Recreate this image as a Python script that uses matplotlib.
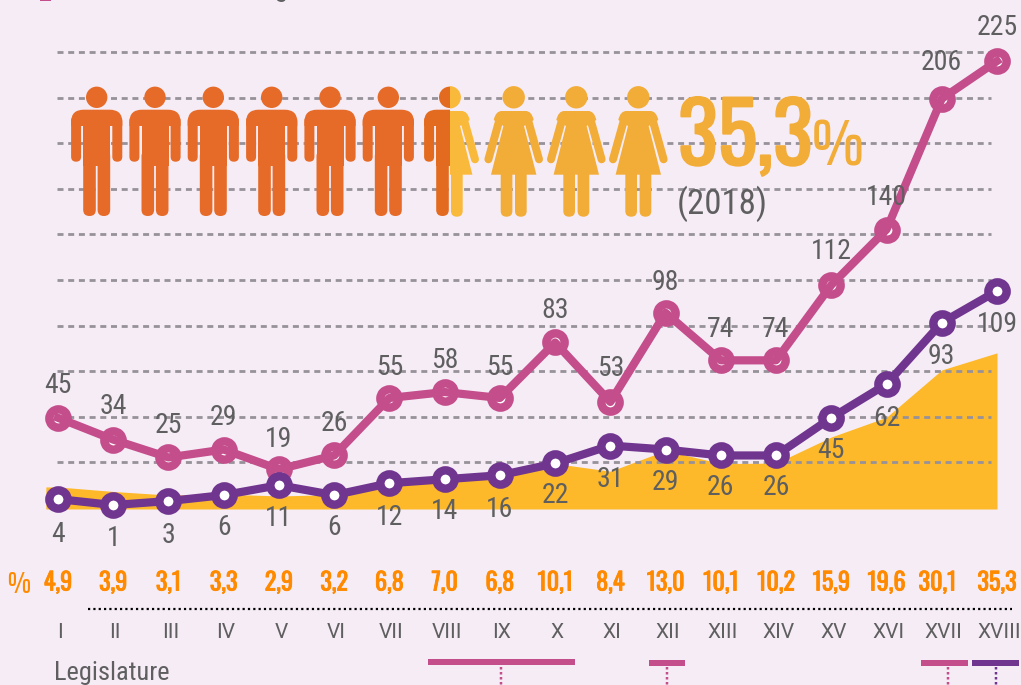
import matplotlib
matplotlib.use("Agg")
import matplotlib.pyplot as plt
import matplotlib.patheffects as pe
from matplotlib.patches import Circle, FancyBboxPatch, PathPatch, Rectangle
from matplotlib.path import Path
from matplotlib.transforms import blended_transform_factory

plt.rcParams["lines.scale_dashes"] = False
COND = ["Roboto Condensed", "Roboto", "DejaVu Sans"]
HEAD = ["Oswald", "Antonio", "Roboto Condensed", "DejaVu Sans"]
TALL = ["Antonio", "Oswald", "Roboto Condensed", "DejaVu Sans"]

legislatures = ["I", "II", "III", "IV", "V", "VI", "VII", "VIII", "IX", "X", "XI", "XII",
                "XIII", "XIV", "XV", "XVI", "XVII", "XVIII"]
women_senate = [45, 34, 25, 29, 19, 26, 55, 58, 55, 83, 53, 98, 74, 74, 112, 140, 206, 225]
women_other = [4, 1, 3, 6, 11, 6, 12, 14, 16, 22, 31, 29, 26, 26, 45, 62, 93, 109]
pct_labels = ["4,9", "3,9", "3,1", "3,3", "2,9", "3,2", "6,8", "7,0", "6,8", "10,1", "8,4", "13,0",
              "10,1", "10,2", "15,9", "19,6", "30,1", "35,3"]
area_pct = [4.9, 3.9, 3.1, 3.3, 2.9, 3.2, 6.8, 7.0, 6.8, 10.1, 8.4, 13.0,
            10.1, 10.2, 16.0, 20.4, 30.9, 34.7]
grid_levels = [22.5, 45.5, 68.5, 91.5, 114.5, 137.5, 160.5, 183.5, 206.5, 229.5]
# label distance from its point, pixels
senate_gap = [32, 33, 32, 32, 30, 32, 30, 32, 30, 32, 33, 30, 31, 31, 34, 32, 36, 34]
other_gap = [35, 33, 34, 32, 33, 32, 34, 32, 34, 32, 34, 33, 32, 32, 33, 34, 34, 34]

BG = "#F6ECF6"
PINK = "#C44D8B"
PURPLE = "#70358F"
AREA = "#FDB92A"
GRID = "#979299"
TEXT = "#5F5F60"
ORANGE = "#FF8A00"
MAN = "#E66B29"
WOMAN = "#F2AC38"

W, H = 1021, 685
PX = 0.72  # one pixel in points at dpi 100
X0, DX = 58, 55.235

fig = plt.figure(figsize=(W / 100, H / 100), dpi=100, facecolor=BG)

# area axis sits lowest, main axis on top of it
ax_area = fig.add_axes([0, 0, 1, 1], facecolor=BG)
ax = ax_area.twinx()
ax_px = fig.add_axes([0, 0, 1, 1])
ax.patch.set_visible(False)
ax_px.patch.set_visible(False)

xlim = (-X0 / DX, (W - X0) / DX)
ax_area.set_xlim(xlim)
ax.set_xlim(xlim)
ax.set_ylim(-(H - 507) / 1.982, 507 / 1.982)
ax_area.set_ylim(-(H - 509) / 4.5, 509 / 4.5)
ax_px.set_xlim(0, W)
ax_px.set_ylim(H, 0)
for a in (ax_area, ax, ax_px):
    a.axis("off")

xs = list(range(len(legislatures)))
area_x = [-0.22] + xs
ax_area.fill_between(area_x, [area_pct[0]] + area_pct, 0, color=AREA, lw=0)

for lv in grid_levels:
    ax.plot([-0.02, 16.9], [lv, lv], color=GRID, lw=2.8 * PX, ls=(0, (6 * PX, 4.7 * PX)), zorder=1)

marker = dict(marker="o", ms=18.3 * PX, mew=8.4 * PX, mfc="white", ls="none")
ax.plot(xs, women_senate, mec=PINK, zorder=3, **marker)
ax.plot(xs, women_senate, color=PINK, lw=8.2 * PX, zorder=4)
ax.plot(xs, women_other, color=PURPLE, lw=8.2 * PX, zorder=5)
ax.plot(xs, women_other, mec=PURPLE, zorder=6, **marker)

for x, v, gap in zip(xs, women_senate, senate_gap):
    ax.annotate(str(v), (x, v), xytext=(0, gap * PX), textcoords="offset points", ha="center", va="center",
                color=TEXT, fontsize=20, family=COND, zorder=7)
for x, v, gap in zip(xs, women_other, other_gap):
    ax.annotate(str(v), (x, v), xytext=(0, -gap * PX), textcoords="offset points", ha="center", va="center",
                color=TEXT, fontsize=20, family=COND, zorder=7)

# rows under the chart: x follows the legislature, y is in pixels
row = blended_transform_factory(ax.transData, ax_px.transData)
heavy = [pe.withStroke(linewidth=0.6, foreground=ORANGE)]
for x, p, name in zip(xs, pct_labels, legislatures):
    shift = -0.08 if name == "XVII" else 0
    ax_px.text(x + shift, 583, p, transform=row, ha="center", va="center", color=ORANGE,
               fontsize=17.5, family=HEAD, path_effects=heavy)
    ax_px.text(x + 0.035, 632, name, transform=row, ha="center", va="center", color=TEXT,
               fontsize=15, family="Roboto")

ax_px.text(19, 584, "%", ha="center", va="center", color=ORANGE, fontsize=17, family=TALL)
ax_px.text(54, 673, "Legislature", ha="left", va="center", color=TEXT, fontsize=19, family=COND)
ax_px.plot([88, 1012], [609, 609], color="black", lw=2.2 * PX, ls=(0, (2.2 * PX, 3.13 * PX)))

for x0, x1, y0, y1, xd, c in [(428, 575, 659, 664.5, 501, PINK), (649, 684.5, 660, 665.7, 666.7, PINK),
                              (921, 968, 660, 665.7, 947.7, PINK), (972, 1019, 660, 665.7, 995.7, PURPLE)]:
    ax_px.add_patch(Rectangle((x0, y0), x1 - x0, y1 - y0, color=c, lw=0))
    ax_px.plot([xd, xd], [667, 685], color=c, lw=2.5 * PX, ls=(0, (2.5 * PX, 2.5 * PX)))

# cut-off legend at the very top
ax_px.add_patch(Rectangle((40, -2), 11, 3.4, color=PINK, lw=0))
ax_px.text(281.7, -2.8, "g", ha="center", va="baseline", color=TEXT, fontsize=19, family=COND)


def rrect(x0, x1, y0, y1, r, color):
    return FancyBboxPatch((x0 + r, y0 + r), x1 - x0 - 2 * r, y1 - y0 - 2 * r,
                          boxstyle=f"round,pad={r},rounding_size={r}", fc=color, ec="none", lw=0)


def draw_man(cx, color, clip=None):
    parts = [Circle((cx, 97.3), 10.7, fc=color, ec="none")]
    verts = [(-25.6, 126), (-25.6, 122), (-25.6, 109.7), (-13, 109.7), (13, 109.7),
             (25.6, 109.7), (25.6, 122), (25.6, 126), (-25.6, 126)]
    codes = [Path.MOVETO, Path.LINETO, Path.CURVE3, Path.CURVE3, Path.LINETO,
             Path.CURVE3, Path.CURVE3, Path.LINETO, Path.CLOSEPOLY]
    parts.append(PathPatch(Path([(cx + a, b) for a, b in verts], codes), fc=color, ec="none"))
    parts.append(rrect(cx - 25.6, cx - 15.6, 116, 161.7, 5, color))
    parts.append(rrect(cx + 15.6, cx + 25.6, 116, 161.7, 5, color))
    parts.append(Rectangle((cx - 13.5, 115), 27, 51, fc=color, ec="none"))
    parts.append(rrect(cx - 13.5, cx - 0.9, 150, 216, 6.2, color))
    parts.append(rrect(cx + 0.9, cx + 13.5, 150, 216, 6.2, color))
    for p in parts:
        ax_px.add_patch(p)
        if clip is not None:
            p.set_clip_path(clip)


def draw_woman(cx, color, clip=None):
    parts = [Circle((cx, 97.3), 11.2, fc=color, ec="none")]
    verts = [(-12, 111), (12, 111), (18, 111), (20, 120), (10.3, 126), (22.7, 174.7), (-22.7, 174.7),
             (-10.3, 126), (-20, 120), (-18, 111), (-12, 111), (-12, 111)]
    codes = [Path.MOVETO, Path.LINETO, Path.CURVE3, Path.CURVE3, Path.LINETO, Path.LINETO, Path.LINETO,
             Path.LINETO, Path.LINETO, Path.CURVE3, Path.CURVE3, Path.CLOSEPOLY]
    parts.append(PathPatch(Path([(cx + a, b) for a, b in verts], codes), fc=color, ec="none"))
    parts.append(rrect(cx - 13, cx - 1.3, 165, 216.7, 5.8, color))
    parts.append(rrect(cx + 1.3, cx + 13, 165, 216.7, 5.8, color))
    for p in parts:
        ax_px.add_patch(p)
        if clip is not None:
            p.set_clip_path(clip)
    for s in (-1, 1):
        ln, = ax_px.plot([cx + s * 14.3, cx + s * 25.3], [120, 159.3], color=color, lw=8 * PX,
                         solid_capstyle="round")
        if clip is not None:
            ln.set_clip_path(clip)


for cx in [96.7, 155, 213.3, 271.7, 330, 388.3]:
    draw_man(cx, MAN)
draw_man(449.7, "#E36B1F", Rectangle((400, 80), 49.7, 150, transform=ax_px.transData))
draw_woman(449.7, "#F9B93B", Rectangle((449.7, 80), 50, 150, transform=ax_px.transData))
for cx in [513.7, 576.3, 638.3]:
    draw_woman(cx, WOMAN)

ax_px.text(678, 165, "35,3", ha="left", va="baseline", color=WOMAN, fontsize=60, family=HEAD,
           path_effects=[pe.withStroke(linewidth=1.4, foreground=WOMAN)])
ax_px.text(810, 165, "%", ha="left", va="baseline", color=WOMAN, fontsize=38, family=TALL)
ax_px.text(677, 204, "(2018)", ha="left", va="center", color=TEXT, fontsize=25, family=COND)

fig.savefig("out.png", dpi=100, facecolor=BG)
